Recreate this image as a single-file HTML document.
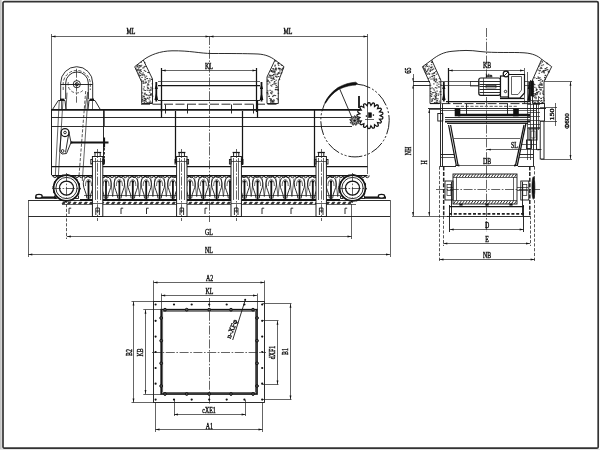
<!DOCTYPE html>
<html lang="en">
<head>
<meta charset="utf-8">
<title>Outline dimensions</title>
<style>
html,body{margin:0;padding:0;background:#fff;}
body{width:600px;height:450px;overflow:hidden;}
svg{display:block;filter:grayscale(1);font-family:"Liberation Serif","Liberation Sans",serif;}
svg path,svg rect,svg circle,svg ellipse{fill:none;stroke:#151515;stroke-width:.9;}
svg text{fill:#111;stroke:#111;stroke-width:.38;}
svg .t{stroke-width:.7;stroke:#222;}
svg .n{stroke-width:.9;}
svg .m{stroke-width:1.25;}
svg .b{stroke-width:1.8;}
svg .f{stroke-width:1.7;}
svg .ff{stroke-width:2.3;}
svg .wb{fill:#fff;stroke-width:1.7;}
svg .wt{fill:#555;stroke-width:1;}
svg .k{fill:#111;stroke:none;}
svg .kk{fill:#111;stroke:#111;stroke-width:.6;}
svg .w{fill:#fff;stroke-width:.95;}
svg .wm{fill:#fff;stroke-width:1.2;}
svg .c{stroke-width:.7;stroke:#222;stroke-dasharray:9 1.6 1.6 1.6;}
svg .d{stroke-width:.75;stroke:#222;stroke-dasharray:3.2 1.6;}
svg .dd{stroke-width:1.5;stroke:#222;stroke-dasharray:4 1.6;}
svg .ph{stroke-width:.95;stroke-dasharray:14 2 2 2 2 2;}
svg .bt{stroke-width:1.6;stroke-dasharray:1.6 3.58;}
svg .h3{stroke-width:1.8;stroke:#222;stroke-dasharray:3 1.8;}
svg .hx{fill:#999;stroke:#222;stroke-width:.9;}
svg .sp{stroke-width:.85;stroke:#222;stroke-linecap:round;}
svg .bd{stroke:#333;stroke-width:1.7;}
svg .bg{fill:#fff;stroke:none;}
svg .gs{fill:#c6c6c6;stroke:none;}
svg .gs2{fill:#e4e4e4;stroke:none;}
</style>
</head>
<body>
<svg width="600" height="450" viewBox="0 0 600 450">
<defs><clipPath id="bk"><rect x="80" y="175.5" width="262" height="25"/></clipPath></defs>
<rect class="bg" x="0" y="0" width="600" height="450"/>
<rect class="gs" x="0" y="0" width="1.7" height="450"/>
<rect class="gs2" x="0" y="449" width="600" height="1"/>
<rect class="bd" x="3" y="1.6" width="595.2" height="446.6" rx="1.3"/>
<path class="t" d="M51.5 36.5L367.5 36.5"/>
<path class="k" d="M51.5 36.5L55.5 35.6L55.5 37.4Z"/>
<path class="k" d="M209.5 36.5L205.5 37.4L205.5 35.6Z"/>
<path class="k" d="M209.5 36.5L213.5 35.6L213.5 37.4Z"/>
<path class="k" d="M367.5 36.5L363.5 37.4L363.5 35.6Z"/>
<path class="t" d="M51.5 34L51.5 175"/>
<path class="t" d="M367.5 34L367.5 174"/>
<text font-size="7.5" text-anchor="middle" transform="translate(131 34) scale(0.78 1)">ML</text>
<text font-size="7.5" text-anchor="middle" transform="translate(288 34) scale(0.78 1)">ML</text>
<path class="c" d="M209.5 36L209.5 222"/>
<path class="n" d="M134.7 66.7L143.3 60L152.5 79L152.5 103.5L141.7 103.5L141.7 82Z"/>
<path class="sp" d="M140.5 66.6h.7M144.2 75.9h.7M142.3 96h.7M136.9 69.7h.7M145.9 101.2h.7M145 77.3h.7M137.3 65.1h.7M146.1 76.2h.7M144.4 62.7h.7M135.8 69h.7M146.8 78.6h.7M142.8 73h.7M148.8 90.4h.7M144 98.1h.7M147.7 72.5h.7M142.1 92.9h.7M148.3 84.9h.7M147.1 85.9h.7M145 79.8h.7M149.7 101.1h.7M143.1 88.9h.7M146.2 103.2h.7M137.7 65.1h.7M137 70.8h.7M144.5 98.4h.7M149.3 97.6h.7M137.8 70.1h.7M145.2 71.4h.7M151.7 90h.7M143.9 86.9h.7M150.7 93.9h.7M150.3 94.7h.7M141.7 77.4h.7M138.4 67.1h.7M140.8 62.3h.7M145.6 66.5h.7M139.2 75.1h.7M141.2 65.3h.7M149.8 103.2h.7M143 81h.7M140.8 71.5h.7M144.1 66.4h.7M144.1 102.6h.7M150.1 90.3h.7M139.3 76h.7M144.2 93.9h.7M140.6 69.7h.7M149.1 102.8h.7M149.9 95.1h.7M149.3 92.2h.7M151.7 79.5h.7M151.4 103h.7M138.6 69.9h.7M138.2 68.9h.7M145.8 99.2h.7M149.7 80.9h.7M146.3 94.8h.7M150.9 94h.7M148.1 80.8h.7M141.8 101.2h.7M137 66.6h.7M150.8 95.1h.7M152.1 88.6h.7M152 88.3h.7M144.1 100.6h.7M142.4 97.9h.7M139.2 72.7h.7M141 79.9h.7M145.1 99.3h.7M142.2 99.9h.7M143.6 83.1h.7M142.5 68h.7M147.6 84.2h.7M144.6 94.1h.7M139.1 72h.7M148.4 82.1h.7M144.7 93.1h.7M150.9 79.3h.7M145.6 82h.7M143.8 90.1h.7M142.8 83.2h.7M143.2 101h.7M147.1 98.1h.7M144.7 101h.7M148.7 99h.7M150.4 102.1h.7M141.8 81.2h.7M152.3 96.2h.7M143.9 74.8h.7M138.2 73.9h.7M144.6 79.2h.7M145.8 82.3h.7M148.7 102.3h.7M139.5 65.6h.7M142.2 99.6h.7M144.9 90.5h.7M147 78.5h.7M146 94.9h.7M142.8 74.8h.7M144.5 100.3h.7M139.5 65.6h.7M144.1 70.4h.7M136.6 67h.7M140.3 73.3h.7M148.2 72.6h.7M143.6 67.7h.7M147.7 84h.7M149.3 78.8h.7M143.5 96.3h.7M146.9 102.7h.7M147.3 87.7h.7M141.9 75.1h.7M139.2 67.1h.7M150.2 89.2h.7M139.7 70.5h.7M152 83.8h.7M140.2 75.5h.7M143.1 81.9h.7M140.1 70.1h.7M145.1 83h.7M148.1 88.6h.7M147.4 98.2h.7M141.6 74.2h.7M147.6 88h.7M150.6 87.3h.7M147.8 95.3h.7M143.7 96.3h.7M149 95.9h.7M145.1 98.8h.7M146.9 90.2h.7"/>
<path class="n" d="M284 66.7L275 60L267 77L267 103.5L278.3 103.5L278.3 81.7Z"/>
<path class="sp" d="M269.3 75.7h.7M268.8 96.4h.7M276.5 87.3h.7M277.6 89.6h.7M275.6 83.3h.7M278.2 62.9h.7M279.5 71h.7M279.4 68.9h.7M275.4 76.6h.7M275.1 89.7h.7M277.9 63.4h.7M279.6 73.2h.7M278.5 72.7h.7M275.8 80.2h.7M274.9 65.2h.7M282.2 68.7h.7M267.3 80h.7M274.6 71.7h.7M270.6 101.1h.7M270.6 85.3h.7M269.4 82.8h.7M270.9 99.1h.7M275.3 61.1h.7M267.1 81.4h.7M274.7 73.1h.7M269.4 75h.7M272.4 96.6h.7M267 92.7h.7M281.3 65.2h.7M273.3 77.1h.7M273.1 78.6h.7M268.7 96.3h.7M271.9 100.7h.7M271.2 71.6h.7M275.7 68.3h.7M273.3 101.6h.7M277.7 99.7h.7M275 74.9h.7M272.1 92.1h.7M278.2 73.1h.7M276.5 77.2h.7M270.5 99.4h.7M275.5 69.6h.7M274.6 66.1h.7M271.1 71.2h.7M276.7 98.6h.7M274 82.8h.7M273.4 74.7h.7M275.6 87.4h.7M281.7 69.4h.7M271.6 70.8h.7M273.8 79.4h.7M267.5 90.9h.7M273.7 100.3h.7M275.9 89.7h.7M278 93.3h.7M274.8 84h.7M267.7 94h.7M271 100h.7M278 73.2h.7M277.8 90.4h.7M275.9 85.4h.7M273.6 69.7h.7M272.1 80h.7M271 70.7h.7M275.5 89.3h.7M274.1 71.2h.7M272.7 78.3h.7M278.6 68.6h.7M275.6 68.9h.7M280.9 70h.7M270.8 93.1h.7M272 101.4h.7M275.4 68.1h.7M270.8 78.1h.7M269.5 77.1h.7M270.6 102.4h.7M268 77.1h.7M270.2 100.7h.7M278.3 76.5h.7M273.4 74.4h.7M271.8 75.3h.7M273.1 95.7h.7M267.8 80.6h.7M273.3 100h.7M270.3 75.8h.7M274 95.3h.7M272.8 71.8h.7M271.5 91.2h.7M272.4 72h.7M267.1 92.9h.7M271 80.7h.7M273.6 70.9h.7M274.3 81.5h.7M282.8 68h.7M277.3 74.3h.7M272.4 75.7h.7M270.4 92.8h.7M267.6 84h.7M272.5 102.6h.7M268.6 81.7h.7M279.1 79.4h.7M271 78.1h.7M277.5 89.3h.7M278.3 65.3h.7M281.3 72.8h.7M276.6 76.2h.7M279.5 68.7h.7M271.2 70.7h.7M269.6 98.5h.7M276.8 74.2h.7M273.7 103.2h.7M275.6 70.1h.7M275.1 95.6h.7M271.4 93.8h.7M277.1 87h.7M270.7 76h.7M271.3 86.1h.7M278.1 68.8h.7M278.5 68.1h.7M272.3 68.8h.7M273.7 83.9h.7M277.9 64h.7M269.8 90.3h.7M274 72.3h.7M272.2 101.5h.7M272.3 84.6h.7M273.1 78.1h.7M273.2 68.6h.7M279.4 68.9h.7"/>
<path class="n" d="M143.3 60C150 55 160 51 172 50.8C190 50.5 200 53.5 212 53.5C230 53.5 245 53.5 258 54C266 54.5 271 57 275 60"/>
<path class="t" d="M161.7 70.5L256.5 70.5"/>
<path class="k" d="M161.7 70.5L165.7 69.6L165.7 71.4Z"/>
<path class="k" d="M256.5 70.5L252.5 71.4L252.5 69.6Z"/>
<path class="m" d="M161.5 68L161.5 112"/>
<path class="m" d="M256.5 68L256.5 112"/>
<text font-size="7.5" text-anchor="middle" transform="translate(209 68.5) scale(0.78 1)">KL</text>
<path class="t" d="M158 81.5L260 81.5"/>
<path class="m" d="M158 85.5L260 85.5"/>
<path class="n" d="M158 100.5L260 100.5"/>
<path class="n" stroke-dasharray="9 2.5" d="M141 104.2H279"/>
<path class="b" d="M156.3 82L156.3 101.5"/>
<path class="k" d="M156.3 84l-1.6 5h3.2zM156.3 92l-1.8 8h3.6z"/>
<path class="b" d="M261.5 82L261.5 101.5"/>
<path class="k" d="M261.5 84l-1.6 5h3.2zM261.5 92l-1.8 8h3.6z"/>
<path class="m" d="M51.5 109.5L360 109.5"/>
<path class="t" d="M51.5 110.5L360 110.5"/>
<path class="n" d="M51.5 117.5L352 117.5"/>
<path class="n" d="M51.5 126.5L352 126.5"/>
<path class="n" d="M103.5 110L103.5 165"/>
<path class="t" d="M104.5 110L104.5 126"/>
<path class="m" d="M314.5 110L314.5 166"/>
<path class="n" d="M165.5 104.5L165.5 113.5"/>
<path class="n" d="M187.5 104.5L187.5 113.5"/>
<path class="n" d="M231.5 104.5L231.5 113.5"/>
<path class="n" d="M253.5 104.5L253.5 113.5"/>
<path class="m" d="M161.5 100L161.5 118"/>
<path class="m" d="M257.5 100L257.5 118"/>
<path class="m" d="M175.5 111L175.5 163"/>
<path class="m" d="M242.5 111L242.5 165"/>
<path class="n" d="M51.5 109L51.5 175"/>
<path class="n" d="M60.7 99V83A16 16.3 0 0 1 92.7 83V99"/>
<path class="n" d="M65.7 99V83A11.3 11 0 0 1 88.3 83V99"/>
<path class="d" d="M63.2 90V83A13.6 13.7 0 0 1 90.3 83V90"/>
<path class="d" d="M68.3 82.2A8.7 8.7 0 0 0 82.8 90.5"/>
<path class="n" d="M60.7 84.5L92.7 84.5"/>
<circle class="n" cx="76.8" cy="84.2" r="3.6"/>
<circle class="n" cx="76.8" cy="84.2" r="1.6"/>
<path class="c" d="M76.5 68.7L76.5 102.7"/>
<path class="n" d="M58.3 100.5L65 100.5L66 109.5L52.5 109.5Z"/>
<path class="n" d="M89 100.5L95 100.5L100.3 109.5L88 109.5Z"/>
<rect class="k" x="60" y="98.6" width="4.4" height="2"/>
<rect class="k" x="89.6" y="98.6" width="4.4" height="2"/>
<path class="t" d="M61.5 101L61.5 109"/>
<path class="t" d="M92.5 101L92.5 109"/>
<path class="t" d="M67 92.7L66 109"/>
<path class="t" d="M87.7 92L85 109"/>
<path class="t" d="M59.3 100L55.3 176"/>
<path class="t" d="M63 100L58.3 177"/>
<path class="d" d="M85.7 91L79 176"/>
<path class="t" d="M88.3 92L82.3 181"/>
<circle class="m" cx="65" cy="132.5" r="4"/>
<circle class="n" cx="65" cy="132.5" r="1.3"/>
<circle class="n" cx="62.6" cy="151" r="1.4"/>
<path class="n" d="M61.2 133.5L59.8 151.5"/>
<path class="n" d="M68.6 134.5L65.5 152.5"/>
<path class="n" d="M59.8 151.5L62 154L66.5 153.5L71 142.5L68.8 131.5"/>
<path class="b" d="M71 142.5L108.5 142.5"/>
<circle class="k" cx="71.5" cy="142.5" r="1.1"/>
<path class="b" d="M104.2 137.5L104.2 147.5"/>
<path class="m" stroke-dasharray="2.5 1.5" d="M104.2 148V164"/>
<path class="m" d="M51.8 166.5L367.5 166.5"/>
<path class="m" d="M51.8 175.5L367.5 175.5"/>
<path class="n" d="M53 175.4a1.9 2.3 0 0 0 3.8 0M57.4 175.4a1.9 2.3 0 0 0 3.8 0M61.8 175.4a1.9 2.3 0 0 0 3.8 0M66.2 175.4a1.9 2.3 0 0 0 3.8 0M70.6 175.4a1.9 2.3 0 0 0 3.8 0M75 175.4a1.9 2.3 0 0 0 3.8 0M79.4 175.4a1.9 2.3 0 0 0 3.8 0M83.8 175.4a1.9 2.3 0 0 0 3.8 0M88.2 175.4a1.9 2.3 0 0 0 3.8 0M92.6 175.4a1.9 2.3 0 0 0 3.8 0M97 175.4a1.9 2.3 0 0 0 3.8 0M101.4 175.4a1.9 2.3 0 0 0 3.8 0M105.8 175.4a1.9 2.3 0 0 0 3.8 0M110.2 175.4a1.9 2.3 0 0 0 3.8 0M114.6 175.4a1.9 2.3 0 0 0 3.8 0M119 175.4a1.9 2.3 0 0 0 3.8 0M123.4 175.4a1.9 2.3 0 0 0 3.8 0M127.8 175.4a1.9 2.3 0 0 0 3.8 0M132.2 175.4a1.9 2.3 0 0 0 3.8 0M136.6 175.4a1.9 2.3 0 0 0 3.8 0M141 175.4a1.9 2.3 0 0 0 3.8 0M145.4 175.4a1.9 2.3 0 0 0 3.8 0M149.8 175.4a1.9 2.3 0 0 0 3.8 0M154.2 175.4a1.9 2.3 0 0 0 3.8 0M158.6 175.4a1.9 2.3 0 0 0 3.8 0M163 175.4a1.9 2.3 0 0 0 3.8 0M167.4 175.4a1.9 2.3 0 0 0 3.8 0M171.8 175.4a1.9 2.3 0 0 0 3.8 0M176.2 175.4a1.9 2.3 0 0 0 3.8 0M180.6 175.4a1.9 2.3 0 0 0 3.8 0M185 175.4a1.9 2.3 0 0 0 3.8 0M189.4 175.4a1.9 2.3 0 0 0 3.8 0M193.8 175.4a1.9 2.3 0 0 0 3.8 0M198.2 175.4a1.9 2.3 0 0 0 3.8 0M202.6 175.4a1.9 2.3 0 0 0 3.8 0M207 175.4a1.9 2.3 0 0 0 3.8 0M211.4 175.4a1.9 2.3 0 0 0 3.8 0M215.8 175.4a1.9 2.3 0 0 0 3.8 0M220.2 175.4a1.9 2.3 0 0 0 3.8 0M224.6 175.4a1.9 2.3 0 0 0 3.8 0M229 175.4a1.9 2.3 0 0 0 3.8 0M233.4 175.4a1.9 2.3 0 0 0 3.8 0M237.8 175.4a1.9 2.3 0 0 0 3.8 0M242.2 175.4a1.9 2.3 0 0 0 3.8 0M246.6 175.4a1.9 2.3 0 0 0 3.8 0M251 175.4a1.9 2.3 0 0 0 3.8 0M255.4 175.4a1.9 2.3 0 0 0 3.8 0M259.8 175.4a1.9 2.3 0 0 0 3.8 0M264.2 175.4a1.9 2.3 0 0 0 3.8 0M268.6 175.4a1.9 2.3 0 0 0 3.8 0M273 175.4a1.9 2.3 0 0 0 3.8 0M277.4 175.4a1.9 2.3 0 0 0 3.8 0M281.8 175.4a1.9 2.3 0 0 0 3.8 0M286.2 175.4a1.9 2.3 0 0 0 3.8 0M290.6 175.4a1.9 2.3 0 0 0 3.8 0M295 175.4a1.9 2.3 0 0 0 3.8 0M299.4 175.4a1.9 2.3 0 0 0 3.8 0M303.8 175.4a1.9 2.3 0 0 0 3.8 0M308.2 175.4a1.9 2.3 0 0 0 3.8 0M312.6 175.4a1.9 2.3 0 0 0 3.8 0M317 175.4a1.9 2.3 0 0 0 3.8 0M321.4 175.4a1.9 2.3 0 0 0 3.8 0M325.8 175.4a1.9 2.3 0 0 0 3.8 0M330.2 175.4a1.9 2.3 0 0 0 3.8 0M334.6 175.4a1.9 2.3 0 0 0 3.8 0M339 175.4a1.9 2.3 0 0 0 3.8 0M343.4 175.4a1.9 2.3 0 0 0 3.8 0M347.8 175.4a1.9 2.3 0 0 0 3.8 0M352.2 175.4a1.9 2.3 0 0 0 3.8 0M356.6 175.4a1.9 2.3 0 0 0 3.8 0M361 175.4a1.9 2.3 0 0 0 3.8 0M365.4 175.4a1.9 2.3 0 0 0 3.8 0"/>
<path class="b" d="M80 200L340 200"/>
<path class="kk" d="M62 203.8l1 -1.6h2.4l-1 1.6zM67.5 203.8l1 -1.6h2.4l-1 1.6zM73 203.8l1 -1.6h2.4l-1 1.6zM78.5 203.8l1 -1.6h2.4l-1 1.6zM84 203.8l1 -1.6h2.4l-1 1.6zM89.5 203.8l1 -1.6h2.4l-1 1.6zM95 203.8l1 -1.6h2.4l-1 1.6zM100.5 203.8l1 -1.6h2.4l-1 1.6zM106 203.8l1 -1.6h2.4l-1 1.6zM111.5 203.8l1 -1.6h2.4l-1 1.6zM117 203.8l1 -1.6h2.4l-1 1.6zM122.5 203.8l1 -1.6h2.4l-1 1.6zM128 203.8l1 -1.6h2.4l-1 1.6zM133.5 203.8l1 -1.6h2.4l-1 1.6zM139 203.8l1 -1.6h2.4l-1 1.6zM144.5 203.8l1 -1.6h2.4l-1 1.6zM150 203.8l1 -1.6h2.4l-1 1.6zM155.5 203.8l1 -1.6h2.4l-1 1.6zM161 203.8l1 -1.6h2.4l-1 1.6zM166.5 203.8l1 -1.6h2.4l-1 1.6zM172 203.8l1 -1.6h2.4l-1 1.6zM177.5 203.8l1 -1.6h2.4l-1 1.6zM183 203.8l1 -1.6h2.4l-1 1.6zM188.5 203.8l1 -1.6h2.4l-1 1.6zM194 203.8l1 -1.6h2.4l-1 1.6zM199.5 203.8l1 -1.6h2.4l-1 1.6zM205 203.8l1 -1.6h2.4l-1 1.6zM210.5 203.8l1 -1.6h2.4l-1 1.6zM216 203.8l1 -1.6h2.4l-1 1.6zM221.5 203.8l1 -1.6h2.4l-1 1.6zM227 203.8l1 -1.6h2.4l-1 1.6zM232.5 203.8l1 -1.6h2.4l-1 1.6zM238 203.8l1 -1.6h2.4l-1 1.6zM243.5 203.8l1 -1.6h2.4l-1 1.6zM249 203.8l1 -1.6h2.4l-1 1.6zM254.5 203.8l1 -1.6h2.4l-1 1.6zM260 203.8l1 -1.6h2.4l-1 1.6zM265.5 203.8l1 -1.6h2.4l-1 1.6zM271 203.8l1 -1.6h2.4l-1 1.6zM276.5 203.8l1 -1.6h2.4l-1 1.6zM282 203.8l1 -1.6h2.4l-1 1.6zM287.5 203.8l1 -1.6h2.4l-1 1.6zM293 203.8l1 -1.6h2.4l-1 1.6zM298.5 203.8l1 -1.6h2.4l-1 1.6zM304 203.8l1 -1.6h2.4l-1 1.6zM309.5 203.8l1 -1.6h2.4l-1 1.6zM315 203.8l1 -1.6h2.4l-1 1.6zM320.5 203.8l1 -1.6h2.4l-1 1.6zM326 203.8l1 -1.6h2.4l-1 1.6zM331.5 203.8l1 -1.6h2.4l-1 1.6zM337 203.8l1 -1.6h2.4l-1 1.6zM342.5 203.8l1 -1.6h2.4l-1 1.6zM348 203.8l1 -1.6h2.4l-1 1.6z"/>
<path class="t" d="M62 204.5L356 204.5"/>
<path class="t" d="M84 195.5L340 195.5"/>
<g clip-path="url(#bk)">
<path class="b" d="M88.5 181.5L88.5 199.3"/>
<path class="k" d="M86.9 181.6l1.6 -1.6l1.6 1.6l-1.6 1.6z"/>
<path class="n" d="M86.9 198.4C86.5 192 83.3 189 83.3 184C83.3 179.5 85.5 176.6 88.5 176.6C91.5 176.6 93.7 179.5 93.7 184C93.7 189 90.5 192 90.1 198.4"/>
<path class="t" d="M85.5 186C85.5 181.5 86.9 179.6 88.5 179.6C90.1 179.6 91.5 181.5 91.5 186"/>
<path class="t" d="M93.1 178.5L95.2 196.5L97.3 178.5"/>
<path class="b" d="M106 181.5L106 199.3"/>
<path class="k" d="M104.4 181.6l1.6 -1.6l1.6 1.6l-1.6 1.6z"/>
<path class="n" d="M104.4 198.4C104 192 100.8 189 100.8 184C100.8 179.5 103 176.6 106 176.6C109 176.6 111.2 179.5 111.2 184C111.2 189 108 192 107.6 198.4"/>
<path class="t" d="M103 186C103 181.5 104.4 179.6 106 179.6C107.6 179.6 109 181.5 109 186"/>
<path class="t" d="M110.6 178.5L112.7 196.5L114.8 178.5"/>
<path class="b" d="M119.4 181.5L119.4 199.3"/>
<path class="k" d="M117.8 181.6l1.6 -1.6l1.6 1.6l-1.6 1.6z"/>
<path class="n" d="M117.8 198.4C117.4 192 114.2 189 114.2 184C114.2 179.5 116.4 176.6 119.4 176.6C122.4 176.6 124.6 179.5 124.6 184C124.6 189 121.4 192 121 198.4"/>
<path class="t" d="M116.4 186C116.4 181.5 117.8 179.6 119.4 179.6C121 179.6 122.4 181.5 122.4 186"/>
<path class="t" d="M124 178.5L126.1 196.5L128.2 178.5"/>
<path class="b" d="M132.8 181.5L132.8 199.3"/>
<path class="k" d="M131.2 181.6l1.6 -1.6l1.6 1.6l-1.6 1.6z"/>
<path class="n" d="M131.2 198.4C130.8 192 127.6 189 127.6 184C127.6 179.5 129.8 176.6 132.8 176.6C135.8 176.6 138 179.5 138 184C138 189 134.8 192 134.4 198.4"/>
<path class="t" d="M129.8 186C129.8 181.5 131.2 179.6 132.8 179.6C134.4 179.6 135.8 181.5 135.8 186"/>
<path class="t" d="M137.4 178.5L139.5 196.5L141.6 178.5"/>
<path class="b" d="M146.2 181.5L146.2 199.3"/>
<path class="k" d="M144.6 181.6l1.6 -1.6l1.6 1.6l-1.6 1.6z"/>
<path class="n" d="M144.6 198.4C144.2 192 141 189 141 184C141 179.5 143.2 176.6 146.2 176.6C149.2 176.6 151.4 179.5 151.4 184C151.4 189 148.2 192 147.8 198.4"/>
<path class="t" d="M143.2 186C143.2 181.5 144.6 179.6 146.2 179.6C147.8 179.6 149.2 181.5 149.2 186"/>
<path class="t" d="M150.8 178.5L152.9 196.5L155 178.5"/>
<path class="b" d="M159.6 181.5L159.6 199.3"/>
<path class="k" d="M158 181.6l1.6 -1.6l1.6 1.6l-1.6 1.6z"/>
<path class="n" d="M158 198.4C157.6 192 154.4 189 154.4 184C154.4 179.5 156.6 176.6 159.6 176.6C162.6 176.6 164.8 179.5 164.8 184C164.8 189 161.6 192 161.2 198.4"/>
<path class="t" d="M156.6 186C156.6 181.5 158 179.6 159.6 179.6C161.2 179.6 162.6 181.5 162.6 186"/>
<path class="t" d="M164.2 178.5L166.3 196.5L168.4 178.5"/>
<path class="b" d="M172.9 181.5L172.9 199.3"/>
<path class="k" d="M171.3 181.6l1.6 -1.6l1.6 1.6l-1.6 1.6z"/>
<path class="n" d="M171.3 198.4C170.9 192 167.7 189 167.7 184C167.7 179.5 169.9 176.6 172.9 176.6C175.9 176.6 178.1 179.5 178.1 184C178.1 189 174.9 192 174.5 198.4"/>
<path class="t" d="M169.9 186C169.9 181.5 171.3 179.6 172.9 179.6C174.5 179.6 175.9 181.5 175.9 186"/>
<path class="t" d="M177.5 178.5L179.6 196.5L181.7 178.5"/>
<path class="b" d="M190 181.5L190 199.3"/>
<path class="k" d="M188.4 181.6l1.6 -1.6l1.6 1.6l-1.6 1.6z"/>
<path class="n" d="M188.4 198.4C188 192 184.8 189 184.8 184C184.8 179.5 187 176.6 190 176.6C193 176.6 195.2 179.5 195.2 184C195.2 189 192 192 191.6 198.4"/>
<path class="t" d="M187 186C187 181.5 188.4 179.6 190 179.6C191.6 179.6 193 181.5 193 186"/>
<path class="t" d="M194.6 178.5L196.7 196.5L198.8 178.5"/>
<path class="b" d="M203.3 181.5L203.3 199.3"/>
<path class="k" d="M201.7 181.6l1.6 -1.6l1.6 1.6l-1.6 1.6z"/>
<path class="n" d="M201.7 198.4C201.3 192 198.1 189 198.1 184C198.1 179.5 200.3 176.6 203.3 176.6C206.3 176.6 208.5 179.5 208.5 184C208.5 189 205.3 192 204.9 198.4"/>
<path class="t" d="M200.3 186C200.3 181.5 201.7 179.6 203.3 179.6C204.9 179.6 206.3 181.5 206.3 186"/>
<path class="t" d="M207.9 178.5L210 196.5L212.1 178.5"/>
<path class="b" d="M216.7 181.5L216.7 199.3"/>
<path class="k" d="M215.1 181.6l1.6 -1.6l1.6 1.6l-1.6 1.6z"/>
<path class="n" d="M215.1 198.4C214.7 192 211.5 189 211.5 184C211.5 179.5 213.7 176.6 216.7 176.6C219.7 176.6 221.9 179.5 221.9 184C221.9 189 218.7 192 218.3 198.4"/>
<path class="t" d="M213.7 186C213.7 181.5 215.1 179.6 216.7 179.6C218.3 179.6 219.7 181.5 219.7 186"/>
<path class="t" d="M221.3 178.5L223.4 196.5L225.5 178.5"/>
<path class="b" d="M230 181.5L230 199.3"/>
<path class="k" d="M228.4 181.6l1.6 -1.6l1.6 1.6l-1.6 1.6z"/>
<path class="n" d="M228.4 198.4C228 192 224.8 189 224.8 184C224.8 179.5 227 176.6 230 176.6C233 176.6 235.2 179.5 235.2 184C235.2 189 232 192 231.6 198.4"/>
<path class="t" d="M227 186C227 181.5 228.4 179.6 230 179.6C231.6 179.6 233 181.5 233 186"/>
<path class="t" d="M234.6 178.5L236.7 196.5L238.8 178.5"/>
<path class="b" d="M244.5 181.5L244.5 199.3"/>
<path class="k" d="M242.9 181.6l1.6 -1.6l1.6 1.6l-1.6 1.6z"/>
<path class="n" d="M242.9 198.4C242.5 192 239.3 189 239.3 184C239.3 179.5 241.5 176.6 244.5 176.6C247.5 176.6 249.7 179.5 249.7 184C249.7 189 246.5 192 246.1 198.4"/>
<path class="t" d="M241.5 186C241.5 181.5 242.9 179.6 244.5 179.6C246.1 179.6 247.5 181.5 247.5 186"/>
<path class="t" d="M249.1 178.5L251.2 196.5L253.3 178.5"/>
<path class="b" d="M257.6 181.5L257.6 199.3"/>
<path class="k" d="M256 181.6l1.6 -1.6l1.6 1.6l-1.6 1.6z"/>
<path class="n" d="M256 198.4C255.6 192 252.4 189 252.4 184C252.4 179.5 254.6 176.6 257.6 176.6C260.6 176.6 262.8 179.5 262.8 184C262.8 189 259.6 192 259.2 198.4"/>
<path class="t" d="M254.6 186C254.6 181.5 256 179.6 257.6 179.6C259.2 179.6 260.6 181.5 260.6 186"/>
<path class="t" d="M262.2 178.5L264.3 196.5L266.4 178.5"/>
<path class="b" d="M271.3 181.5L271.3 199.3"/>
<path class="k" d="M269.7 181.6l1.6 -1.6l1.6 1.6l-1.6 1.6z"/>
<path class="n" d="M269.7 198.4C269.3 192 266.1 189 266.1 184C266.1 179.5 268.3 176.6 271.3 176.6C274.3 176.6 276.5 179.5 276.5 184C276.5 189 273.3 192 272.9 198.4"/>
<path class="t" d="M268.3 186C268.3 181.5 269.7 179.6 271.3 179.6C272.9 179.6 274.3 181.5 274.3 186"/>
<path class="t" d="M275.9 178.5L278 196.5L280.1 178.5"/>
<path class="b" d="M285.2 181.5L285.2 199.3"/>
<path class="k" d="M283.6 181.6l1.6 -1.6l1.6 1.6l-1.6 1.6z"/>
<path class="n" d="M283.6 198.4C283.2 192 280 189 280 184C280 179.5 282.2 176.6 285.2 176.6C288.2 176.6 290.4 179.5 290.4 184C290.4 189 287.2 192 286.8 198.4"/>
<path class="t" d="M282.2 186C282.2 181.5 283.6 179.6 285.2 179.6C286.8 179.6 288.2 181.5 288.2 186"/>
<path class="t" d="M289.8 178.5L291.9 196.5L294 178.5"/>
<path class="b" d="M299.5 181.5L299.5 199.3"/>
<path class="k" d="M297.9 181.6l1.6 -1.6l1.6 1.6l-1.6 1.6z"/>
<path class="n" d="M297.9 198.4C297.5 192 294.3 189 294.3 184C294.3 179.5 296.5 176.6 299.5 176.6C302.5 176.6 304.7 179.5 304.7 184C304.7 189 301.5 192 301.1 198.4"/>
<path class="t" d="M296.5 186C296.5 181.5 297.9 179.6 299.5 179.6C301.1 179.6 302.5 181.5 302.5 186"/>
<path class="t" d="M304.1 178.5L306.2 196.5L308.3 178.5"/>
<path class="b" d="M312.8 181.5L312.8 199.3"/>
<path class="k" d="M311.2 181.6l1.6 -1.6l1.6 1.6l-1.6 1.6z"/>
<path class="n" d="M311.2 198.4C310.8 192 307.6 189 307.6 184C307.6 179.5 309.8 176.6 312.8 176.6C315.8 176.6 318 179.5 318 184C318 189 314.8 192 314.4 198.4"/>
<path class="t" d="M309.8 186C309.8 181.5 311.2 179.6 312.8 179.6C314.4 179.6 315.8 181.5 315.8 186"/>
<path class="t" d="M317.4 178.5L319.5 196.5L321.6 178.5"/>
<path class="b" d="M331 181.5L331 199.3"/>
<path class="k" d="M329.4 181.6l1.6 -1.6l1.6 1.6l-1.6 1.6z"/>
<path class="n" d="M329.4 198.4C329 192 325.8 189 325.8 184C325.8 179.5 328 176.6 331 176.6C334 176.6 336.2 179.5 336.2 184C336.2 189 333 192 332.6 198.4"/>
<path class="t" d="M328 186C328 181.5 329.4 179.6 331 179.6C332.6 179.6 334 181.5 334 186"/>
<path class="t" d="M335.6 178.5L337.7 196.5L339.8 178.5"/>
</g>
<rect class="w" x="92.4" y="156.5" width="10.4" height="60"/>
<rect class="w" x="95" y="152.5" width="5.2" height="4"/>
<path class="m" d="M94 152.5L101.2 152.5"/>
<path class="c" d="M97.5 149L97.5 221"/>
<path class="t" d="M95.5 158L95.5 200"/>
<path class="t" d="M100.5 158L100.5 200"/>
<rect class="n" x="90.8" y="159.5" width="1.6" height="4.5"/>
<rect class="n" x="102.8" y="159.5" width="1.6" height="4.5"/>
<path class="t" d="M92.4 161.5L102.8 161.5"/>
<path class="n" d="M95.8 215V208H99.4V215M95.8 211H99.4"/>
<path class="t" d="M92.4 203.5L102.8 203.5"/>
<rect class="w" x="176.6" y="156.5" width="10.4" height="60"/>
<rect class="w" x="179.2" y="152.5" width="5.2" height="4"/>
<path class="m" d="M178.2 152.5L185.4 152.5"/>
<path class="c" d="M181.5 149L181.5 221"/>
<path class="t" d="M179.5 158L179.5 200"/>
<path class="t" d="M184.5 158L184.5 200"/>
<rect class="n" x="175" y="159.5" width="1.6" height="4.5"/>
<rect class="n" x="187" y="159.5" width="1.6" height="4.5"/>
<path class="t" d="M176.6 161.5L187 161.5"/>
<path class="n" d="M180 215V208H183.6V215M180 211H183.6"/>
<path class="t" d="M176.6 203.5L187 203.5"/>
<rect class="w" x="231" y="156.5" width="10.4" height="60"/>
<rect class="w" x="233.6" y="152.5" width="5.2" height="4"/>
<path class="m" d="M232.6 152.5L239.8 152.5"/>
<path class="c" d="M236.5 149L236.5 221"/>
<path class="t" d="M233.5 158L233.5 200"/>
<path class="t" d="M238.5 158L238.5 200"/>
<rect class="n" x="229.4" y="159.5" width="1.6" height="4.5"/>
<rect class="n" x="241.4" y="159.5" width="1.6" height="4.5"/>
<path class="t" d="M231 161.5L241.4 161.5"/>
<path class="n" d="M234.4 215V208H238V215M234.4 211H238"/>
<path class="t" d="M231 203.5L241.4 203.5"/>
<rect class="w" x="316" y="156.5" width="10.4" height="60"/>
<rect class="w" x="318.6" y="152.5" width="5.2" height="4"/>
<path class="m" d="M317.6 152.5L324.8 152.5"/>
<path class="c" d="M321.5 149L321.5 221"/>
<path class="t" d="M318.5 158L318.5 200"/>
<path class="t" d="M323.5 158L323.5 200"/>
<rect class="n" x="314.4" y="159.5" width="1.6" height="4.5"/>
<rect class="n" x="326.4" y="159.5" width="1.6" height="4.5"/>
<path class="t" d="M316 161.5L326.4 161.5"/>
<path class="n" d="M319.4 215V208H323V215M319.4 211H323"/>
<path class="t" d="M316 203.5L326.4 203.5"/>
<circle class="wb" cx="66.5" cy="188" r="12.9"/>
<circle class="n" cx="66.5" cy="188" r="10.6"/>
<circle class="m" cx="66.5" cy="188" r="7"/>
<circle class="bt" cx="66.5" cy="188" r="13.2"/>
<path class="c" d="M52 188.5L81 188.5"/>
<path class="c" d="M66.5 173L66.5 203"/>
<path class="n" d="M57.5 198.5h-3v-3M75.5 198.5h3v-3"/>
<circle class="wb" cx="352.5" cy="188" r="12.9"/>
<circle class="n" cx="352.5" cy="188" r="10.6"/>
<circle class="m" cx="352.5" cy="188" r="7"/>
<circle class="bt" cx="352.5" cy="188" r="13.2"/>
<path class="c" d="M338 188.5L367 188.5"/>
<path class="c" d="M352.5 173L352.5 203"/>
<path class="n" d="M343.5 198.5h-3v-3M361.5 198.5h3v-3"/>
<path class="ff" d="M35 197.6L56 197.6"/>
<ellipse class="wm" cx="39" cy="196.2" rx="3.2" ry="1.8"/>
<path class="ff" d="M364 197.6L386 197.6"/>
<ellipse class="wm" cx="381.5" cy="196.2" rx="3.2" ry="1.8"/>
<path class="n" d="M28.3 200.5L80 200.5"/>
<path class="n" d="M340 200.5L390 200.5"/>
<path class="t" d="M28.5 200L28.5 257"/>
<path class="t" d="M390.5 200L390.5 257"/>
<path class="n" d="M28.3 216.5L390 216.5"/>
<path class="n" d="M121 214V208.2h2.2"/>
<path class="n" d="M146.5 214V208.2h2.2"/>
<path class="n" d="M205 214V208.2h2.2"/>
<path class="n" d="M262 214V208.2h2.2"/>
<path class="n" d="M291 214V208.2h2.2"/>
<path class="n" d="M345 214V208.2h2.2"/>
<path class="n" d="M69 214V208.2h2.2"/>
<path class="d" d="M66.5 204L66.5 239"/>
<path class="t" d="M351.5 204L351.5 239"/>
<path class="t" d="M66.8 236.5L351.5 236.5"/>
<path class="k" d="M66.8 236.5L70.8 235.6L70.8 237.4Z"/>
<path class="k" d="M351.5 236.5L347.5 237.4L347.5 235.6Z"/>
<text font-size="7.5" text-anchor="middle" transform="translate(209 234.5) scale(0.78 1)">GL</text>
<path class="t" d="M28.3 254.5L390 254.5"/>
<path class="k" d="M28.3 254.5L32.3 253.6L32.3 255.4Z"/>
<path class="k" d="M390 254.5L386 255.4L386 253.6Z"/>
<text font-size="7.5" text-anchor="middle" transform="translate(209 252.5) scale(0.78 1)">NL</text>
<ellipse class="ph" cx="355" cy="120.5" rx="34.2" ry="36.4"/>
<path class="kk" d="M324.8 102.6C328 96 332.5 91.5 338 87.6C344 84.2 350 82.6 355.6 82.2L357.4 83.4L356 85C351 85.2 346 86.2 339 89.2C333 93 329 97.5 325.6 103Z"/>
<path class="n" d="M339.5 88.5L353 120"/>
<path class="b" d="M359 96L359 108"/>
<path class="m" d="M380.2 115.6L382.7 117L382.9 118L382.4 118.9L379.5 119.3L379.5 119.3L381.4 121.5L381.1 122.5L380.4 123.1L377.5 122.5L377.5 122.5L378.4 125.2L377.9 126.1L376.9 126.4L374.5 124.7L374.5 124.7L374.4 127.6L373.6 128.2L372.6 128.1L370.9 125.8L370.9 125.8L369.8 128.4L368.8 128.6L367.9 128.2L367.2 125.4L367.2 125.4L365.2 127.4L364.2 127.3L363.5 126.6L363.9 123.7L363.9 123.7L361.2 124.9L360.3 124.4L359.9 123.5L361.3 121L361.3 121L358.4 121.1L357.8 120.3L357.8 119.3L360 117.5L360 117.5L357.2 116.5L356.9 115.6L357.2 114.7L360 113.7L360 113.7L357.8 111.9L357.8 110.9L358.4 110.1L361.3 110.2L361.3 110.2L359.9 107.7L360.3 106.8L361.2 106.3L363.9 107.5L363.9 107.5L363.5 104.6L364.2 103.9L365.2 103.8L367.2 105.8L367.2 105.8L367.9 103L368.8 102.6L369.8 102.8L370.9 105.4L370.9 105.4L372.6 103.1L373.6 103L374.4 103.6L374.5 106.5L374.5 106.5L376.9 104.8L377.9 105.1L378.4 106L377.5 108.7L377.5 108.7L380.4 108.1L381.1 108.7L381.4 109.7L379.5 111.9L379.5 111.9L382.4 112.3L382.9 113.2L382.7 114.2L380.2 115.6Z"/>
<rect class="kk" x="368.6" y="112.8" width="2.8" height="4.6"/>
<circle class="k" cx="366.4" cy="116.1" r="0.8"/>
<circle class="k" cx="373.4" cy="115.1" r="0.8"/>
<path class="t" d="M365 119.5L374 119.5"/>
<path class="hx" d="M357.1 121.1L358.8 122.4L358.8 123.2L358.2 123.5L356.2 122.6L356.2 122.6L356.7 124.7L356.2 125.2L355.4 125.1L354.5 123.2L354.5 123.2L353.5 125.1L352.8 125.2L352.3 124.6L352.9 122.5L352.9 122.5L350.9 123.3L350.3 122.9L350.3 122.2L352 121L352 121L350 120.3L349.8 119.6L350.3 119.1L352.4 119.2L352.4 119.2L351.3 117.4L351.5 116.8L352.3 116.6L353.8 118.1L353.8 118.1L354.1 116L354.7 115.7L355.4 116.1L355.6 118.2L355.6 118.2L357.1 116.8L357.8 116.9L358.1 117.6L356.9 119.4L356.9 119.4L359 119.3L359.4 119.9L359.2 120.6L357.1 121.1Z"/>
<circle class="k" cx="354.6" cy="120.6" r="1.2"/>
<path class="c" d="M486.5 28L486.5 232"/>
<path class="n" d="M422.5 66.7L431.7 60L440.8 80L440.8 103.5L430 103.5L430 83.3Z"/>
<path class="sp" d="M430.3 95.7h.7M430.9 67.1h.7M434.2 99.6h.7M425.2 72.3h.7M432 100.3h.7M437.2 102.1h.7M426.1 65.5h.7M439.8 102.4h.7M431.3 62.3h.7M439 87h.7M432 76.7h.7M424.8 70.7h.7M435.8 99h.7M433.5 83.9h.7M434 73.3h.7M430.2 85.3h.7M430.3 88.7h.7M430.7 79.1h.7M431.5 70.2h.7M436.5 93.9h.7M430.9 67.8h.7M431.2 64.7h.7M431.8 61.8h.7M435.9 93.8h.7M431.9 62.4h.7M431.7 76.4h.7M438.2 103.3h.7M435.9 95.5h.7M431.5 101.6h.7M436.9 100.5h.7M431.7 100h.7M426.3 71.4h.7M431.8 73.9h.7M423.2 67.9h.7M434.9 99h.7M434.1 75.7h.7M438.5 84.2h.7M433.1 98.4h.7M434 77.2h.7M440.6 85.1h.7M430.6 67.7h.7M434.2 102.8h.7M433.2 88.9h.7M423.1 66.5h.7M433.8 78.8h.7M431.9 99h.7M424.9 69.9h.7M433.3 68.9h.7M433.9 80.7h.7M427 66.5h.7M438.4 94h.7M429.9 71.5h.7M432.8 75.2h.7M434.3 79.3h.7M439.6 91.9h.7M429.9 70.3h.7M431.8 87.9h.7M428.2 73.1h.7M436.8 91.1h.7M436.1 80.2h.7M436.1 79.7h.7M426.6 64.6h.7M435.2 96.8h.7M435.5 71.6h.7M432.6 79h.7M436.9 82.8h.7M427.3 70.3h.7M436.1 101.1h.7M436.2 74.2h.7M434 90.1h.7M434.7 102.6h.7M431.1 96.5h.7M435.3 97.3h.7M430.5 91.5h.7M432.9 73.4h.7M428.8 66.2h.7M435.2 87.6h.7M435.3 92.1h.7M437.5 98.8h.7M439.2 101.1h.7M424.5 68.9h.7M438 95.3h.7M434.1 95.9h.7M434.1 72.5h.7M428.3 78.4h.7M429.2 74h.7M440.1 81.9h.7M438.1 86.9h.7M430.5 93.6h.7M432.3 69.4h.7M436.4 102.5h.7M431.5 94.7h.7M427.7 69.3h.7M435.3 81.7h.7M435.3 94.2h.7M434 75.5h.7M429.8 77.2h.7M426.3 71.4h.7M439 81.8h.7M432.2 92.8h.7M436.3 88.1h.7M428.9 74.2h.7M434.6 92.3h.7M436.7 85.2h.7M426 73.1h.7M435.4 96.7h.7M425.3 66.8h.7M427 74.2h.7M432.1 67h.7M428.5 68.2h.7M440.3 91.7h.7M440.5 94.6h.7M435.9 78.9h.7M424.5 69h.7M435.2 81.8h.7M434.1 80.2h.7M439.1 78.7h.7M433 92.6h.7M430.2 69.9h.7M435.7 98.3h.7"/>
<path class="n" d="M551.7 66.7L541.7 59.3L532.5 80L532.5 103.5L544 103.5L544 81.7Z"/>
<path class="sp" d="M544.8 79.4h.7M538.5 87.1h.7M534.4 77.8h.7M544.6 70.4h.7M540.6 79.4h.7M544.4 77.4h.7M536 88.2h.7M541.9 102.4h.7M533.2 83.3h.7M535.6 93.9h.7M534.4 84.7h.7M542.9 91h.7M542.3 87.6h.7M540.4 101.2h.7M536.5 89.5h.7M540 93h.7M534.8 102.8h.7M537.8 77h.7M540.6 90.2h.7M539.3 71h.7M536.8 92.1h.7M536.7 94.7h.7M540 68.7h.7M535 93.6h.7M541.5 84.1h.7M536.8 101.9h.7M539.3 87.5h.7M541.5 72.3h.7M543 64.8h.7M548.8 71.1h.7M539.7 70.5h.7M540.7 67.5h.7M532.6 91.2h.7M537.9 70.1h.7M538.3 80.5h.7M540.7 87.5h.7M545.2 75.3h.7M533.6 95.9h.7M535.2 96h.7M532.7 101.4h.7M545.1 70.4h.7M537 93.6h.7M539.2 66h.7M535.7 98.7h.7M536.3 89.9h.7M542.7 92.1h.7M540.9 98.3h.7M543.2 71h.7M542 61.9h.7M541.5 65.7h.7M541.9 81.3h.7M542.9 97.4h.7M532.6 96.5h.7M541.5 84.2h.7M539.7 77.8h.7M533 86.2h.7M538.8 102.7h.7M542.3 80.7h.7M539 97.4h.7M539.5 80.3h.7M542.6 93.4h.7M536.5 78.5h.7M540.6 83.8h.7M548.4 72.2h.7M542.2 71.3h.7M542.2 102.4h.7M538.9 73.3h.7M538.2 85.2h.7M533.3 91.2h.7M545.6 68.7h.7M547.1 63.8h.7M545.1 75.6h.7M543.3 70.7h.7M538.3 77.9h.7M538.6 78.3h.7M533.5 84.4h.7M543.9 100.7h.7M540.4 63.8h.7M544.9 68.7h.7M532.6 89.5h.7M534.8 102h.7M534.2 97.7h.7M546.3 70h.7M546.6 67.6h.7M533.5 93.5h.7M546.5 63h.7M541.3 100.5h.7M537.4 101.9h.7M532.8 88.1h.7M538.5 91.5h.7M535.7 97.4h.7M541.8 61.9h.7M539.6 84.7h.7M540.9 89.2h.7M535.3 94.5h.7M539.5 87.8h.7M544.6 77.8h.7M539.9 94.1h.7M543.4 72.2h.7M533.7 102.3h.7M538.9 86.1h.7M544 72.9h.7M540.7 98.6h.7M539.7 89.6h.7M548 71.8h.7M540.6 85.2h.7M533.3 96.1h.7M543.5 71.4h.7M543.1 94.5h.7M536.3 92.5h.7M541.4 68.4h.7M537.4 92.5h.7M534.2 95h.7M547.3 69.6h.7M543.6 98.9h.7M541.7 85.3h.7M536 90.3h.7M539.5 84.2h.7M540.2 82.2h.7M534.5 87.3h.7"/>
<path class="n" d="M431.7 60C438 55 444 52 452 51.3C462 50.3 470 50 480 51.5C495 53.2 512 52 524 52.8C533 53.4 538 56 541.7 59.3"/>
<path class="t" d="M448.7 70.5L524 70.5"/>
<path class="k" d="M448.7 70.5L452.7 69.6L452.7 71.4Z"/>
<path class="k" d="M524 70.5L520 71.4L520 69.6Z"/>
<text font-size="7.5" text-anchor="middle" transform="translate(487 68) scale(0.78 1)">KB</text>
<path class="m" d="M448.5 68L448.5 104"/>
<path class="t" d="M524.5 68L524.5 104"/>
<text font-size="7.5" text-anchor="middle" transform="translate(411.3 70.5) rotate(-90) scale(0.78 1)">65</text>
<path class="t" d="M413.5 74L413.5 216"/>
<path class="k" d="M413 81.5L412.2 78.3L413.8 78.3Z"/>
<path class="k" d="M413 85.3L413.8 88.5L412.2 88.5Z"/>
<path class="n" d="M413 81.5L430 81.5"/>
<path class="n" d="M413 85.5L430 85.5"/>
<path class="t" d="M441 81.5L531 81.5"/>
<path class="t" d="M441 85.5L531 85.5"/>
<path class="m" d="M446 101.5L530 101.5"/>
<path class="n" stroke-dasharray="9 2.5" d="M430 103.6H544"/>
<path class="b" d="M443.8 82L443.8 101.5"/>
<path class="k" d="M443.8 84l-1.6 5h3.2zM443.8 92l-1.8 8h3.6z"/>
<path class="b" d="M529.2 82L529.2 101.5"/>
<path class="k" d="M529.2 84l-1.6 5h3.2zM529.2 92l-1.8 8h3.6z"/>
<rect class="wm" x="478.8" y="78" width="21.7" height="17.3" rx="2"/>
<path class="n" d="M479.5 81.5L500 81.5"/>
<path class="n" d="M479.5 84.5L500 84.5"/>
<path class="n" d="M479.5 86.5L500 86.5"/>
<path class="n" d="M479.5 89.5L500 89.5"/>
<path class="n" d="M479.5 92.5L500 92.5"/>
<path class="t" d="M483.5 78L483.5 95"/>
<rect class="t" x="486" y="85.6" width="10" height="2.4"/>
<rect class="t" x="470.5" y="81.5" width="8.3" height="4.5"/>
<text font-size="4.6" text-anchor="middle" transform="translate(489 76.5) scale(0.78 1)">kdm</text>
<rect class="wm" x="500.5" y="76" width="8" height="21"/>
<path class="wm" d="M508.5 74.5H524.5V93L520 98H508.5Z"/>
<path class="t" d="M511.5 76.5H521.5V90L518 94.5H511.5Z"/>
<circle class="wm" cx="506" cy="74" r="2.8"/>
<path class="n" d="M504 76L508 72"/>
<circle class="n" cx="505.5" cy="91.5" r="1.2"/>
<path class="m" d="M500 98.5L524 98.5"/>
<path class="t" d="M527.5 72L527.5 160"/>
<path class="t" d="M530.5 80L530.5 160"/>
<rect class="kk" x="530.5" y="81" width="3" height="15"/>
<path class="n" d="M428 108.5L546 108.5"/>
<path class="t" d="M441 110.5L536 110.5"/>
<path class="ff" d="M458 115L530 115"/>
<path class="n" d="M445 117.5L530 117.5"/>
<path class="t" d="M445 119.5L530 119.5"/>
<path class="b" d="M445 121.6L530 121.6"/>
<path class="n" d="M447 123.5L528 123.5"/>
<path class="d" d="M456 106.3H518"/>
<rect class="kk" x="455" y="108.6" width="5" height="7.4"/>
<rect class="kk" x="513.5" y="108.6" width="5" height="7.4"/>
<path class="n" d="M466.5 104L466.5 115"/>
<path class="n" d="M507.5 104L507.5 115"/>
<path class="n" d="M440.5 104L440.5 166"/>
<path class="n" d="M442.5 104L442.5 166"/>
<rect class="n" x="437.8" y="113.5" width="5" height="7.5"/>
<path class="n" d="M533.5 104L533.5 166"/>
<path class="n" d="M536.5 104L536.5 150"/>
<path class="m" d="M448.6 125L456.4 166"/>
<path class="m" d="M450.6 125L458.2 166"/>
<path class="m" d="M526 123L517.2 166"/>
<path class="m" d="M524 125L515.4 166"/>
<path class="t" d="M454 138.5L520 138.5"/>
<path class="n" d="M441 154.5L454 154.5"/>
<path class="t" d="M441 157.5L455 157.5"/>
<path class="n" d="M519 154.5L533 154.5"/>
<path class="t" d="M519 157.5L533 157.5"/>
<rect class="n" x="529" y="129" width="8" height="11"/>
<rect class="t" x="531" y="131" width="4" height="7"/>
<rect class="n" x="526.5" y="140" width="5" height="8.5"/>
<path class="t" d="M528 127.5L540 127.5"/>
<path class="t" d="M522 144.5L536 144.5"/>
<path class="t" d="M527.5 100.5L540 100.5"/>
<path class="t" d="M527.5 104.5L540 104.5"/>
<path class="t" d="M527.5 108.5L540 108.5"/>
<path class="t" d="M527.5 112.5L540 112.5"/>
<path class="t" d="M527.5 116.5L540 116.5"/>
<path class="t" d="M527.5 120.5L540 120.5"/>
<path class="t" d="M527.5 124.5L540 124.5"/>
<path class="t" d="M527.5 128.5L540 128.5"/>
<path class="t" d="M538.5 96L538.5 130"/>
<path class="n" d="M544.5 103L544.5 121"/>
<rect class="n" x="540.2" y="121" width="3.8" height="38"/>
<path class="t" d="M540 107.5L557 107.5"/>
<path class="t" d="M540 121.5L557 121.5"/>
<path class="t" d="M555.5 103L555.5 126"/>
<text font-size="7" text-anchor="middle" transform="translate(554.2 114.5) rotate(-90) scale(1.15 1)">150</text>
<path class="t" d="M544 81.5L572 81.5"/>
<path class="t" d="M541 159.5L572 159.5"/>
<path class="t" d="M570.5 81.8L570.5 159"/>
<path class="k" d="M570.5 81.8L571.4 85.8L569.6 85.8Z"/>
<path class="k" d="M570.5 159L569.6 155L571.4 155Z"/>
<text font-size="7" text-anchor="middle" transform="translate(568.8 121) rotate(-90)">Φ600</text>
<path class="t" d="M486.8 149.5L541.5 149.5"/>
<path class="k" d="M486.8 149.6L490.8 148.7L490.8 150.5Z"/>
<path class="k" d="M541.5 149.6L537.5 150.5L537.5 148.7Z"/>
<text font-size="7.5" text-anchor="middle" transform="translate(514.5 148) scale(0.78 1)">SL</text>
<path class="t" d="M455.3 165.5L518 165.5"/>
<path class="k" d="M455.3 165.5L459.3 164.6L459.3 166.4Z"/>
<path class="k" d="M518 165.5L514 166.4L514 164.6Z"/>
<text font-size="7.5" text-anchor="middle" transform="translate(487 163.8) scale(0.78 1)">DB</text>
<path class="t" d="M429.5 109L429.5 216"/>
<path class="k" d="M429.2 109L430.1 113L428.3 113Z"/>
<path class="k" d="M429.2 216L428.3 212L430.1 212Z"/>
<path class="t" d="M429.2 109.5L440 109.5"/>
<text font-size="7.5" text-anchor="middle" transform="translate(427.3 162.5) rotate(-90) scale(0.78 1)">H</text>
<text font-size="7.5" text-anchor="middle" transform="translate(410.8 151) rotate(-90) scale(0.78 1)">NH</text>
<path class="k" d="M413 216L412.1 212L413.9 212Z"/>
<path class="t" d="M412 216.5L448 216.5"/>
<rect class="n" x="453" y="174" width="64" height="30"/>
<path class="n" d="M453.5 177.2L455.6 174.2M456.4 177.2L458.5 174.2M459.3 177.2L461.4 174.2M462.2 177.2L464.3 174.2M465.1 177.2L467.2 174.2M468 177.2L470.1 174.2M470.9 177.2L473 174.2M473.8 177.2L475.9 174.2M476.7 177.2L478.8 174.2M479.6 177.2L481.7 174.2M482.5 177.2L484.6 174.2M485.4 177.2L487.5 174.2M488.3 177.2L490.4 174.2M491.2 177.2L493.3 174.2M494.1 177.2L496.2 174.2M497 177.2L499.1 174.2M499.9 177.2L502 174.2M502.8 177.2L504.9 174.2M505.7 177.2L507.8 174.2M508.6 177.2L510.7 174.2M511.5 177.2L513.6 174.2M514.4 177.2L516.5 174.2"/>
<path class="n" d="M453.5 203.8L455.6 200.8M456.4 203.8L458.5 200.8M459.3 203.8L461.4 200.8M462.2 203.8L464.3 200.8M465.1 203.8L467.2 200.8M468 203.8L470.1 200.8M470.9 203.8L473 200.8M473.8 203.8L475.9 200.8M476.7 203.8L478.8 200.8M479.6 203.8L481.7 200.8M482.5 203.8L484.6 200.8M485.4 203.8L487.5 200.8M488.3 203.8L490.4 200.8M491.2 203.8L493.3 200.8M494.1 203.8L496.2 200.8M497 203.8L499.1 200.8M499.9 203.8L502 200.8M502.8 203.8L504.9 200.8M505.7 203.8L507.8 200.8M508.6 203.8L510.7 200.8M511.5 203.8L513.6 200.8M514.4 203.8L516.5 200.8"/>
<path class="t" d="M453 177.5L517 177.5"/>
<path class="t" d="M453 200.5L517 200.5"/>
<path class="t" d="M456.5 177L456.5 201"/>
<path class="t" d="M513.5 177L513.5 201"/>
<path class="c" d="M436 189.5L540 189.5"/>
<path class="t" d="M447 187.5L453 187.5"/>
<path class="t" d="M447 190.5L453 190.5"/>
<path class="t" d="M517 187.5L528 187.5"/>
<path class="t" d="M517 190.5L528 190.5"/>
<rect class="n" x="445" y="181" width="8" height="19"/>
<rect class="t" x="447" y="184.5" width="4" height="11"/>
<rect class="n" x="520.8" y="181" width="8" height="19"/>
<rect class="t" x="522.8" y="184.5" width="4" height="11"/>
<ellipse class="kk" cx="533.4" cy="188" rx="1.5" ry="11.3"/>
<path class="d" d="M439.5 166.5V262M443.5 216V246M530.5 216V246M534.5 166.5V262"/>
<path class="dd" d="M443.7 166.5V215.6M529.8 166.5V215.6"/>
<path class="n" d="M451.5 181.7L451.5 215.6"/>
<path class="n" d="M522.5 181.7L522.5 215.6"/>
<path class="n" d="M439.5 166.5L456 166.5"/>
<path class="n" d="M518 166.5L534.6 166.5"/>
<path class="m" d="M449 206.5L524 206.5"/>
<path class="h3" d="M449 213.8H524"/>
<path class="n" d="M447 216.5L530 216.5"/>
<path class="n" d="M449.5 205L449.5 232"/>
<path class="n" d="M523.5 205L523.5 232"/>
<rect class="k" x="459.4" y="203.6" width="3.2" height="2"/>
<rect class="k" x="485.4" y="203.6" width="3.2" height="2"/>
<rect class="k" x="509.4" y="203.6" width="3.2" height="2"/>
<path class="t" d="M449.7 229.5L523.7 229.5"/>
<path class="k" d="M449.7 229.5L453.7 228.6L453.7 230.4Z"/>
<path class="k" d="M523.7 229.5L519.7 230.4L519.7 228.6Z"/>
<text font-size="7.5" text-anchor="middle" transform="translate(487 227.8) scale(0.78 1)">D</text>
<path class="t" d="M443.3 243.5L530 243.5"/>
<path class="k" d="M443.3 243.5L447.3 242.6L447.3 244.4Z"/>
<path class="k" d="M530 243.5L526 244.4L526 242.6Z"/>
<text font-size="7.5" text-anchor="middle" transform="translate(487 241.6) scale(0.78 1)">E</text>
<path class="t" d="M439.5 259.5L534.6 259.5"/>
<path class="k" d="M439.5 259.5L443.5 258.6L443.5 260.4Z"/>
<path class="k" d="M534.6 259.5L530.6 260.4L530.6 258.6Z"/>
<text font-size="7.5" text-anchor="middle" transform="translate(487 257.6) scale(0.78 1)">NB</text>
<rect class="n" x="153.5" y="301.5" width="111" height="101"/>
<rect class="f" x="161.2" y="309.7" width="95.8" height="84.3"/>
<rect class="t" x="162.7" y="311.2" width="92.8" height="81.3"/>
<path class="c" d="M209.5 298L209.5 405"/>
<path class="c" d="M152 352.5L266 352.5"/>
<circle class="k" cx="155.6" cy="304.5" r="1.1"/>
<circle class="k" cx="155.6" cy="399.6" r="1.1"/>
<circle class="k" cx="174" cy="304.5" r="1.1"/>
<circle class="k" cx="174" cy="399.6" r="1.1"/>
<circle class="k" cx="191.7" cy="304.5" r="1.1"/>
<circle class="k" cx="191.7" cy="399.6" r="1.1"/>
<circle class="k" cx="209.2" cy="304.5" r="1.1"/>
<circle class="k" cx="209.2" cy="399.6" r="1.1"/>
<circle class="k" cx="226.7" cy="304.5" r="1.1"/>
<circle class="k" cx="226.7" cy="399.6" r="1.1"/>
<circle class="k" cx="244.4" cy="304.5" r="1.1"/>
<circle class="k" cx="244.4" cy="399.6" r="1.1"/>
<circle class="k" cx="262.2" cy="304.5" r="1.1"/>
<circle class="k" cx="262.2" cy="399.6" r="1.1"/>
<circle class="k" cx="155.6" cy="320.8" r="1.1"/>
<circle class="k" cx="262.2" cy="320.8" r="1.1"/>
<circle class="k" cx="155.6" cy="336.6" r="1.1"/>
<circle class="k" cx="262.2" cy="336.6" r="1.1"/>
<circle class="k" cx="155.6" cy="352" r="1.1"/>
<circle class="k" cx="262.2" cy="352" r="1.1"/>
<circle class="k" cx="155.6" cy="368" r="1.1"/>
<circle class="k" cx="262.2" cy="368" r="1.1"/>
<circle class="k" cx="155.6" cy="383.7" r="1.1"/>
<circle class="k" cx="262.2" cy="383.7" r="1.1"/>
<circle class="wt" cx="165" cy="309.7" r="1.4"/>
<circle class="wt" cx="165" cy="394" r="1.4"/>
<circle class="wt" cx="186.7" cy="309.7" r="1.4"/>
<circle class="wt" cx="186.7" cy="394" r="1.4"/>
<circle class="wt" cx="209.2" cy="309.7" r="1.4"/>
<circle class="wt" cx="209.2" cy="394" r="1.4"/>
<circle class="wt" cx="231" cy="309.7" r="1.4"/>
<circle class="wt" cx="231" cy="394" r="1.4"/>
<circle class="wt" cx="253" cy="309.7" r="1.4"/>
<circle class="wt" cx="253" cy="394" r="1.4"/>
<circle class="wt" cx="161.2" cy="318" r="1.4"/>
<circle class="wt" cx="257" cy="318" r="1.4"/>
<circle class="wt" cx="161.2" cy="340.7" r="1.4"/>
<circle class="wt" cx="257" cy="340.7" r="1.4"/>
<circle class="wt" cx="161.2" cy="363.3" r="1.4"/>
<circle class="wt" cx="257" cy="363.3" r="1.4"/>
<circle class="wt" cx="161.2" cy="386" r="1.4"/>
<circle class="wt" cx="257" cy="386" r="1.4"/>
<path class="t" d="M153.5 280.5L153.5 301.5"/>
<path class="t" d="M264.5 280.5L264.5 301.5"/>
<path class="t" d="M153.5 282.5L264.5 282.5"/>
<path class="k" d="M153.5 282.5L157.5 281.6L157.5 283.4Z"/>
<path class="k" d="M264.5 282.5L260.5 283.4L260.5 281.6Z"/>
<text font-size="7.5" text-anchor="middle" transform="translate(209.5 281) scale(0.78 1)">A2</text>
<path class="t" d="M161.5 293.5L161.5 309.7"/>
<path class="t" d="M257.5 293.5L257.5 309.7"/>
<path class="t" d="M161.2 295.5L257 295.5"/>
<path class="k" d="M161.2 295.5L165.2 294.6L165.2 296.4Z"/>
<path class="k" d="M257 295.5L253 296.4L253 294.6Z"/>
<text font-size="7.5" text-anchor="middle" transform="translate(209.5 293.6) scale(0.78 1)">KL</text>
<path class="t" d="M131.5 301.5L153.5 301.5"/>
<path class="t" d="M131.5 402.5L153.5 402.5"/>
<path class="t" d="M133.5 301.5L133.5 402.5"/>
<path class="k" d="M133.5 301.5L134.4 305.5L132.6 305.5Z"/>
<path class="k" d="M133.5 402.5L132.6 398.5L134.4 398.5Z"/>
<text font-size="7.5" text-anchor="middle" transform="translate(131.8 352.5) rotate(-90) scale(0.78 1)">B2</text>
<path class="t" d="M143.3 309.5L161.2 309.5"/>
<path class="t" d="M143.3 394.5L161.2 394.5"/>
<path class="t" d="M145.5 309.7L145.5 394"/>
<path class="k" d="M145.5 309.7L146.4 313.7L144.6 313.7Z"/>
<path class="k" d="M145.5 394L144.6 390L146.4 390Z"/>
<text font-size="7.5" text-anchor="middle" transform="translate(143.3 352.5) rotate(-90) scale(0.78 1)">KB</text>
<path class="t" d="M262.5 303.5L291.5 303.5"/>
<path class="t" d="M262.5 399.5L291.5 399.5"/>
<path class="t" d="M290.5 303.8L290.5 399.5"/>
<path class="k" d="M290.5 303.8L291.4 307.8L289.6 307.8Z"/>
<path class="k" d="M290.5 399.5L289.6 395.5L291.4 395.5Z"/>
<text font-size="7.5" text-anchor="middle" transform="translate(288.3 351.5) rotate(-90) scale(0.78 1)">B1</text>
<path class="t" d="M262.5 320.5L278.5 320.5"/>
<path class="t" d="M262.5 384.5L278.5 384.5"/>
<path class="t" d="M277.5 320.8L277.5 384.6"/>
<path class="k" d="M277.5 320.8L278.4 324.8L276.6 324.8Z"/>
<path class="k" d="M277.5 384.6L276.6 380.6L278.4 380.6Z"/>
<text font-size="7.5" text-anchor="middle" transform="translate(275.3 352.5) rotate(-90) scale(0.78 1)">dXF1</text>
<path class="t" d="M174.5 400L174.5 416"/>
<path class="t" d="M245.5 400L245.5 416"/>
<path class="t" d="M174 414.5L245.6 414.5"/>
<path class="k" d="M174 414.5L178 413.6L178 415.4Z"/>
<path class="k" d="M245.6 414.5L241.6 415.4L241.6 413.6Z"/>
<text font-size="7.5" text-anchor="middle" transform="translate(209 413.2) scale(0.78 1)">cXE1</text>
<path class="t" d="M155.5 402.5L155.5 432"/>
<path class="t" d="M262.5 402.5L262.5 432"/>
<path class="t" d="M155.5 429.5L262.5 429.5"/>
<path class="k" d="M155.5 429.5L159.5 428.6L159.5 430.4Z"/>
<path class="k" d="M262.5 429.5L258.5 430.4L258.5 428.6Z"/>
<text font-size="7.5" text-anchor="middle" transform="translate(209.3 428.8) scale(0.78 1)">A1</text>
<path class="n" d="M245.3 299.8L232.7 340"/>
<circle class="k" cx="245.2" cy="299.8" r="1"/>
<text font-size="7.3" text-anchor="start" transform="translate(230.6 339) rotate(-69)">n-XFφ</text>
</svg>
</body>
</html>
